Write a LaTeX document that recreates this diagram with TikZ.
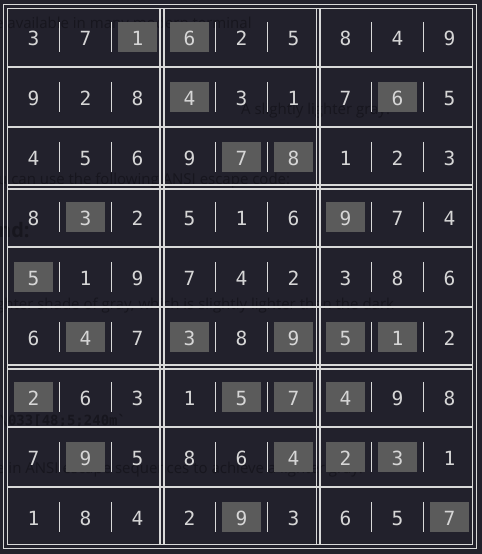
\documentclass[tikz,border=0pt]{standalone}
\usepackage{fontspec}
\newfontfamily\digitfont{DejaVu Sans Mono}
\newfontfamily\ghostfont{Open Sans}
\newfontfamily\ghostmono{DejaVu Sans Mono}
\definecolor{bg}{HTML}{22212C}
\definecolor{ghost}{HTML}{17161E}
\definecolor{gridline}{HTML}{D9D9D9}
\definecolor{hl}{HTML}{5B5B5B}
\definecolor{digit}{HTML}{D6D6D6}
\tikzset{
  ghosttext/.style={anchor=base west, inner sep=0pt, text=ghost, font=\ghostfont\fontsize{15bp}{18bp}\selectfont},
  gline/.style={draw=gridline, line width=1.4bp},
  cellbar/.style={draw=gridline, line width=1.6bp},
  hlbox/.style={fill=hl},
  digitnode/.style={inner sep=0pt, text=digit, font=\digitfont\fontsize{19.5bp}{22bp}\selectfont}
}
\begin{document}
\begin{tikzpicture}[x=1bp,y=-1bp]
\fill[bg] (0,0) rectangle (482,554);
\useasboundingbox (0,0) rectangle (482,554);
% faint background text
\node[ghosttext] (g1) at (-5,29) {e available in many modern terminal};
\node[ghosttext] (g2) at (241,115) {A slightly lighter gray:};
\node[ghosttext] (g3) at (-2,185) {u can use the following ANSI escape code:};
\node[ghosttext, font=\ghostfont\bfseries\fontsize{20bp}{24bp}\selectfont] (g4) at (-2,237) {nd:};
\node[ghosttext] (g5) at (-4,309) {ghter shade of gray, which is slightly lighter than the dark};
\node[ghosttext, font=\ghostmono\bfseries\fontsize{14bp}{17bp}\selectfont] (g6) at (-9,425) {`\textbackslash 033[48;5;240m`};
\node[ghosttext] (g7) at (-4,473) {e in ANSI escape sequences to achieve a lighter gray:};
% outer border
\draw[gline] (3.5,4.5) rectangle (476.5,548.5);
% box lines
\foreach \x in {7.5,160,164,316.5,320,472.5}
  \draw[gline] (\x,8.5) -- (\x,544.5);
\foreach \y in {8.5,185,189,365,369,544.5}
  \draw[gline] (7.5,\y) -- (472.5,\y);
% row separators
\foreach \y in {67,127,247,307,427,487}
  \draw[gline] (7.5,\y) -- (472.5,\y);
% cells
\foreach \row [count=\r] in {
  {3/0,7/0,1/1,6/1,2/0,5/0,8/0,4/0,9/0},
  {9/0,2/0,8/0,4/1,3/0,1/0,7/0,6/1,5/0},
  {4/0,5/0,6/0,9/0,7/1,8/1,1/0,2/0,3/0},
  {8/0,3/1,2/0,5/0,1/0,6/0,9/1,7/0,4/0},
  {5/1,1/0,9/0,7/0,4/0,2/0,3/0,8/0,6/0},
  {6/0,4/1,7/0,3/1,8/0,9/1,5/1,1/1,2/0},
  {2/1,6/0,3/0,1/0,5/1,7/1,4/1,9/0,8/0},
  {7/0,9/1,5/0,8/0,6/0,4/1,2/1,3/1,1/0},
  {1/0,8/0,4/0,2/0,9/1,3/0,6/0,5/0,7/1}} {
  \foreach \d/\h [count=\c] in \row {
    \pgfmathsetmacro\xc{33.5+52*(\c-1)}
    \pgfmathsetmacro\yc{37+60*(\r-1)}
    \ifnum\h=1
      \fill[hlbox] (\xc-19.5,\yc-15) rectangle (\xc+19.5,\yc+15);
    \fi
    \node[digitnode] (d-\r-\c) at (\xc,\yc+1.5) {\d};
  }
  \pgfmathsetmacro\yc{37+60*(\r-1)}
  \foreach \bx in {59.5,111.5,215.5,267.5,371.5,423.5}
    \draw[cellbar] (\bx,\yc-15) -- (\bx,\yc+15);
}
\end{tikzpicture}
\end{document}
